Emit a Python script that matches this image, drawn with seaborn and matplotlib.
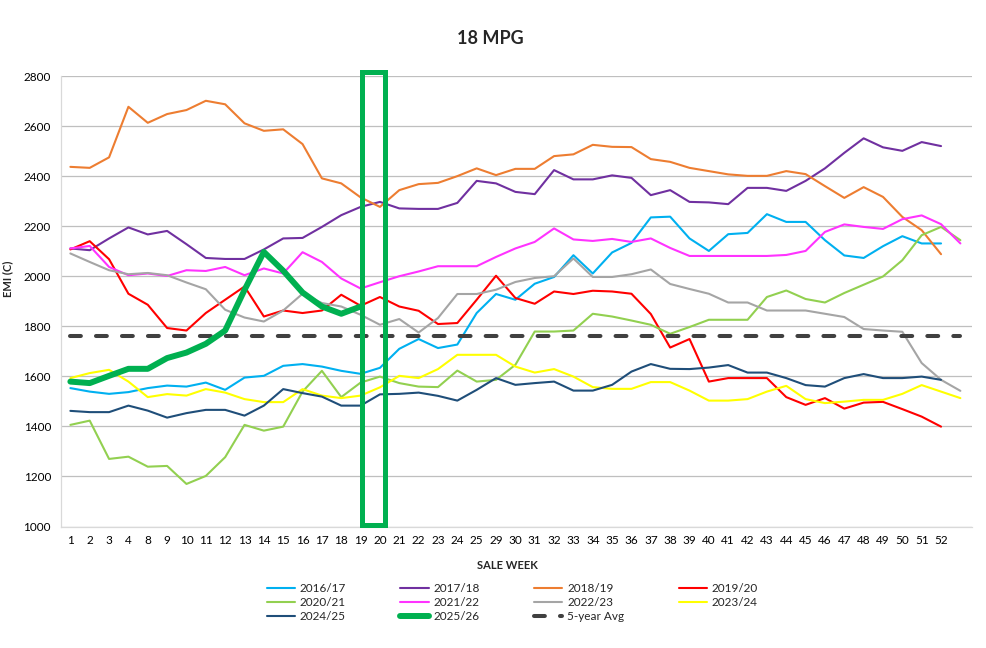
import numpy as np
import matplotlib
matplotlib.use('Agg')
import matplotlib.pyplot as plt
from matplotlib.patches import Rectangle
import seaborn as sns

# ---- data ----
week_labels = ['1', '2', '3', '4', '8', '9', '10', '11', '12', '13', '14', '15', '16',
               '17', '18', '19', '20', '21', '22', '23', '24', '25', '29', '30', '31',
               '32', '33', '34', '35', '36', '37', '38', '39', '40', '41', '42', '43',
               '44', '45', '46', '47', '48', '49', '50', '51', '52', '']

emi_2016_17 = [1553, 1539, 1530, 1537, 1553, 1563, 1559, 1575, 1546, 1595,
               1602, 1642, 1649, 1639, 1622, 1610, 1634, 1710, 1749, 1713,
               1727, 1853, 1929, 1906, 1970, 1997, 2084, 2011, 2095, 2133,
               2235, 2238, 2151, 2101, 2168, 2173, 2248, 2217, 2217, 2144,
               2083, 2073, 2120, 2160, 2131, 2131]
emi_2017_18 = [2111, 2104, 2151, 2195, 2167, 2181, 2128, 2073, 2069, 2069,
               2107, 2151, 2153, 2197, 2244, 2277, 2297, 2271, 2269, 2269,
               2293, 2381, 2371, 2337, 2328, 2424, 2387, 2387, 2403, 2393,
               2324, 2344, 2297, 2295, 2288, 2353, 2353, 2341, 2381, 2431,
               2493, 2551, 2515, 2501, 2536, 2520]
emi_2018_19 = [2437, 2433, 2475, 2677, 2613, 2648, 2664, 2701, 2687, 2611,
               2581, 2587, 2528, 2391, 2371, 2315, 2277, 2344, 2368, 2373,
               2400, 2431, 2404, 2429, 2429, 2480, 2487, 2525, 2517, 2516,
               2468, 2457, 2433, 2420, 2407, 2401, 2401, 2420, 2408, 2360,
               2313, 2356, 2317, 2237, 2184, 2088]
emi_2019_20 = [2107, 2140, 2068, 1930, 1886, 1793, 1783, 1853, 1906, 1959,
               1839, 1863, 1853, 1863, 1926, 1882, 1917, 1879, 1862, 1809,
               1813, 1906, 2002, 1913, 1890, 1939, 1929, 1942, 1939, 1930,
               1849, 1715, 1749, 1579, 1593, 1593, 1593, 1517, 1486, 1513,
               1471, 1495, 1498, 1469, 1439, 1399]
emi_2020_21 = [1406, 1423, 1270, 1279, 1239, 1242, 1170, 1202, 1277, 1406,
               1383, 1399, 1539, 1622, 1517, 1575, 1599, 1573, 1559, 1557,
               1623, 1579, 1586, 1646, 1779, 1779, 1783, 1850, 1839, 1823,
               1806, 1770, 1797, 1826, 1826, 1826, 1917, 1943, 1909, 1895,
               1933, 1966, 1999, 2064, 2164, 2197, 2144]
emi_2021_22 = [2111, 2121, 2037, 2004, 2011, 2001, 2024, 2021, 2037, 2004,
               2031, 2011, 2096, 2057, 1991, 1951, 1976, 2000, 2019, 2040,
               2040, 2040, 2077, 2111, 2137, 2191, 2147, 2141, 2149, 2137,
               2151, 2113, 2081, 2081, 2081, 2081, 2081, 2085, 2101, 2177,
               2207, 2197, 2189, 2228, 2243, 2208, 2131]
emi_2022_23 = [2091, 2057, 2024, 2008, 2013, 2004, 1975, 1948, 1866, 1835,
               1819, 1863, 1930, 1893, 1879, 1846, 1806, 1829, 1775, 1833,
               1929, 1929, 1946, 1977, 1993, 2000, 2071, 1997, 1997, 2008,
               2027, 1969, 1949, 1930, 1895, 1895, 1863, 1863, 1863, 1850,
               1837, 1789, 1783, 1778, 1653, 1586, 1542]
emi_2023_24 = [1593, 1613, 1626, 1579, 1517, 1529, 1523, 1549, 1535, 1509,
               1497, 1497, 1549, 1523, 1513, 1523, 1556, 1602, 1593, 1629,
               1686, 1686, 1686, 1639, 1615, 1629, 1599, 1557, 1550, 1550,
               1577, 1577, 1543, 1503, 1503, 1509, 1539, 1562, 1509, 1493,
               1499, 1506, 1506, 1530, 1565, 1539, 1513]
emi_2024_25 = [1462, 1457, 1457, 1483, 1463, 1435, 1453, 1466, 1466, 1443,
               1483, 1549, 1533, 1519, 1483, 1483, 1528, 1530, 1535, 1522,
               1503, 1546, 1593, 1566, 1573, 1579, 1543, 1543, 1566, 1619,
               1649, 1630, 1629, 1635, 1645, 1615, 1615, 1593, 1565, 1559,
               1593, 1609, 1593, 1593, 1599, 1586]
emi_2025_26 = [1579, 1573, 1602, 1630, 1630, 1673, 1695, 1730, 1783, 1945,
               2097, 2022, 1935, 1879, 1850, 1879]
avg_5yr = [1760, 1760, 1760, 1760, 1760, 1760, 1760, 1760, 1760, 1760,
           1760, 1760, 1760, 1760, 1760, 1760, 1760, 1760, 1760, 1760,
           1760, 1760, 1760, 1760, 1760, 1760, 1760, 1760, 1760, 1760,
           1760, 1760, 1760, 1760, 1760, 1760, 1760, 1760, 1760, 1760,
           1760, 1760, 1760, 1760, 1760, 1760, 1760]

season_names = ['2016/17', '2017/18', '2018/19', '2019/20', '2020/21', '2021/22',
                '2022/23', '2023/24', '2024/25', '2025/26']
season_values = [emi_2016_17, emi_2017_18, emi_2018_19, emi_2019_20, emi_2020_21,
                 emi_2021_22, emi_2022_23, emi_2023_24, emi_2024_25, emi_2025_26]
season_colors = ['#00B0F0', '#7030A0', '#ED7D31', '#FF0000', '#92D050', '#FF33FF',
                 '#A5A5A5', '#FFFF00', '#1F4E79', '#00B050']

# ---- styling ----
sns.set_theme(style='white')
plt.rcParams['font.family'] = ['Lato', 'DejaVu Sans']

fig, ax = plt.subplots(figsize=(9.87, 6.48), dpi=100)
fig.subplots_adjust(left=0.0615, right=0.9848, top=0.8827, bottom=0.1875)

for name, vals, col in zip(season_names, season_values, season_colors):
    lw = 4.3 if name == '2025/26' else 1.5
    sns.lineplot(x=np.arange(len(vals)), y=vals, color=col, lw=lw,
                 label=name, ax=ax, zorder=3 if name == '2025/26' else 2)

sns.lineplot(x=np.arange(len(avg_5yr)), y=avg_5yr, color='#404040', lw=2.9,
             ls=(0, (2.7, 3.75)), dash_capstyle='round', label='5-year Avg',
             ax=ax, zorder=2.5)

# highlight box around weeks 19-20
ax.add_patch(Rectangle((15.05, 1006), 1.19, 1810, fill=False,
                       edgecolor='#00B050', lw=3.6, clip_on=False, zorder=4))

ax.set_xlim(-0.5, 46.6)
ax.set_ylim(1000, 2800)
ax.set_yticks(np.arange(1000, 2801, 200))
ax.set_xticks(np.arange(len(week_labels)))
ax.set_xticklabels(week_labels)
ax.tick_params(axis='both', length=0, labelsize=8.5, colors='#000000')
ax.tick_params(axis='x', pad=6)
ax.tick_params(axis='y', pad=7)

ax.yaxis.grid(True, color='#BFBFBF', lw=0.9)
ax.xaxis.grid(False)
ax.set_axisbelow(True)
for s in ['top', 'right']:
    ax.spines[s].set_visible(False)
for s in ['left', 'bottom']:
    ax.spines[s].set_color('#D9D9D9')
    ax.spines[s].set_linewidth(0.9)

ax.set_xlabel('SALE WEEK', fontsize=8, fontweight='bold')
ax.set_ylabel('EMI (C)', fontsize=8, fontweight='bold')
ax.xaxis.set_label_coords(0.49, -0.074)
ax.yaxis.set_label_coords(-0.052, 0.55)

fig.suptitle('18 MPG', x=0.497, y=0.954, fontsize=13, fontweight='bold')

# legend laid out row-wise like the original (matplotlib fills by column)
handles, labels = ax.get_legend_handles_labels()
ax.get_legend().remove()
order = [0, 4, 8, 1, 5, 9, 2, 6, 10, 3, 7]
fig.legend([handles[i] for i in order], [labels[i] for i in order],
           loc='center', bbox_to_anchor=(0.519, 0.070), ncol=4, frameon=False,
           fontsize=8.5, handlelength=2.4, handletextpad=0.4,
           columnspacing=4.6, labelspacing=0.25)

plt.savefig('out.png', dpi=100)
plt.close()
